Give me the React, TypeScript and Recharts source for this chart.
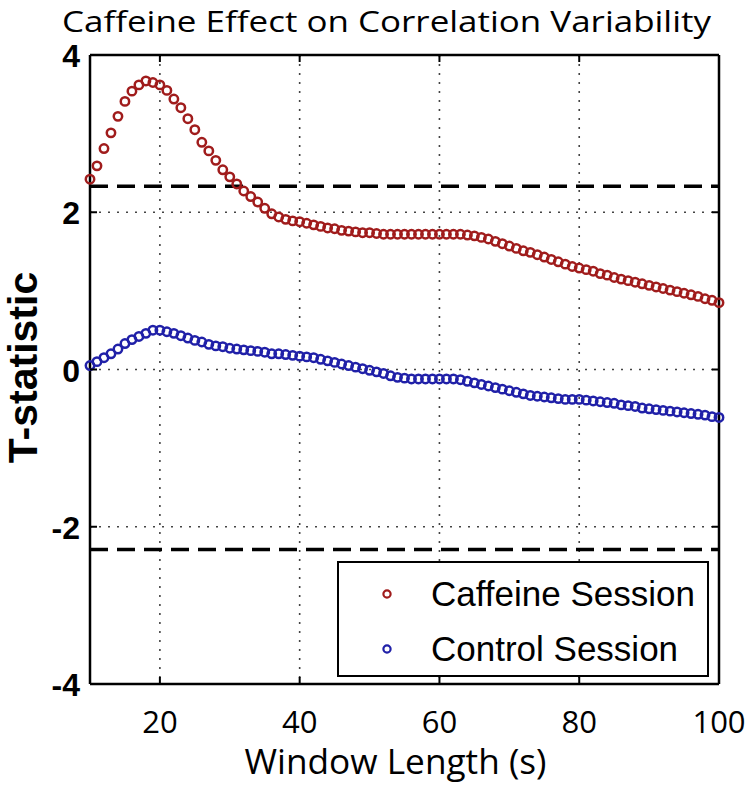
import React from 'react';
import {
  ScatterChart,
  Scatter,
  XAxis,
  YAxis,
  CartesianGrid,
  ReferenceLine,
  Legend,
} from 'recharts';

const windowLengths = [
  10, 11, 12, 13, 14, 15, 16, 17, 18, 19,
  20, 21, 22, 23, 24, 25, 26, 27, 28, 29,
  30, 31, 32, 33, 34, 35, 36, 37, 38, 39,
  40, 41, 42, 43, 44, 45, 46, 47, 48, 49,
  50, 51, 52, 53, 54, 55, 56, 57, 58, 59,
  60, 61, 62, 63, 64, 65, 66, 67, 68, 69,
  70, 71, 72, 73, 74, 75, 76, 77, 78, 79,
  80, 81, 82, 83, 84, 85, 86, 87, 88, 89,
  90, 91, 92, 93, 94, 95, 96, 97, 98, 99,
  100,
];

const caffeineT = [
  2.42, 2.59, 2.81, 3.01, 3.22, 3.41, 3.54, 3.62, 3.67, 3.65,
  3.62, 3.55, 3.44, 3.33, 3.19, 3.05, 2.89, 2.78, 2.66, 2.54,
  2.45, 2.36, 2.27, 2.20, 2.13, 2.05, 1.98, 1.94, 1.91, 1.89,
  1.88, 1.86, 1.84, 1.82, 1.80, 1.79, 1.77, 1.76, 1.75, 1.74,
  1.74, 1.73, 1.72, 1.72, 1.72, 1.72, 1.72, 1.72, 1.72, 1.72,
  1.72, 1.72, 1.72, 1.72, 1.71, 1.70, 1.68, 1.66, 1.63, 1.60,
  1.57, 1.54, 1.51, 1.49, 1.46, 1.43, 1.40, 1.37, 1.34, 1.31,
  1.29, 1.27, 1.25, 1.22, 1.20, 1.17, 1.15, 1.13, 1.11, 1.09,
  1.07, 1.05, 1.03, 1.01, 0.99, 0.97, 0.95, 0.93, 0.90, 0.88,
  0.85,
];

const controlT = [
  0.05, 0.10, 0.15, 0.20, 0.26, 0.33, 0.38, 0.42, 0.46, 0.50,
  0.50, 0.48, 0.46, 0.43, 0.40, 0.37, 0.35, 0.32, 0.30, 0.29,
  0.27, 0.26, 0.25, 0.24, 0.23, 0.22, 0.20, 0.20, 0.19, 0.18,
  0.17, 0.16, 0.15, 0.13, 0.11, 0.09, 0.07, 0.05, 0.03, 0.01,
  -0.01, -0.03, -0.05, -0.08, -0.10, -0.11, -0.12, -0.12, -0.12, -0.12,
  -0.12, -0.12, -0.12, -0.13, -0.15, -0.17, -0.19, -0.21, -0.23, -0.25,
  -0.27, -0.29, -0.31, -0.33, -0.34, -0.35, -0.36, -0.37, -0.38, -0.38,
  -0.38, -0.39, -0.40, -0.41, -0.42, -0.43, -0.45, -0.46, -0.47, -0.49,
  -0.50, -0.51, -0.52, -0.53, -0.54, -0.55, -0.56, -0.57, -0.58, -0.60,
  -0.61,
];

const xTicks = [20, 40, 60, 80, 100];
const yTicks = [-4, -2, 0, 2, 4];
const upperThreshold = 2.33;
const lowerThreshold = -2.29;

const seriesNames = ['Caffeine Session', 'Control Session'];
const seriesColors = ['#a01c1c', '#2020a8'];

const titleText = 'Caffeine Effect on Correlation Variability';
const xLabelText = 'Window Length (s)';
const yLabelText = 'T-statistic';

const caffeineData = windowLengths.map((x, i) => ({ x, y: caffeineT[i] }));
const controlData = windowLengths.map((x, i) => ({ x, y: controlT[i] }));

const makeShape = (color: string) => (props: any) => (
  <circle cx={props.cx} cy={props.cy} r={4.2} fill="none" stroke={color} strokeWidth={2.5} />
);
const emptyShape = () => <g />;

const BottomTick = (props: any) => {
  const { x, y, payload } = props;
  return (
    <g>
      <line x1={x} x2={x} y1={y} y2={y - 7} stroke="#000" strokeWidth={2} />
      <text x={x} y={y + 49} textAnchor="middle" fontFamily="Open Sans" fontSize={31} fill="#000">
        {payload.value}
      </text>
    </g>
  );
};

const TopTick = (props: any) => {
  const { x, y } = props;
  return <line x1={x} x2={x} y1={y} y2={y + 7} stroke="#000" strokeWidth={2} />;
};

const LeftTick = (props: any) => {
  const { x, y, payload } = props;
  return (
    <g>
      <line x1={x} x2={x + 7} y1={y} y2={y} stroke="#000" strokeWidth={2} />
      <text
        x={x - 10}
        y={y + 12}
        textAnchor="end"
        fontFamily="Liberation Sans"
        fontWeight="bold"
        fontSize={32}
        fill="#000"
      >
        {payload.value}
      </text>
    </g>
  );
};

const RightTick = (props: any) => {
  const { x, y } = props;
  return <line x1={x} x2={x - 7} y1={y} y2={y} stroke="#000" strokeWidth={2} />;
};

const LegendBox = () => (
  <div
    style={{
      position: 'relative',
      width: 372,
      height: 116,
      boxSizing: 'border-box',
      border: '2px solid #000',
      background: '#fff',
    }}
  >
    {seriesNames.map((name, i) => (
      <div
        key={name}
        style={{
          position: 'absolute',
          left: 0,
          top: i === 0 ? 11 : 66,
          height: 40,
          width: 368,
        }}
      >
        <svg width={20} height={20} style={{ position: 'absolute', left: 38, top: 10 }}>
          <circle cx={10} cy={10} r={3.6} fill="none" stroke={seriesColors[i]} strokeWidth={2.2} />
        </svg>
        <span
          style={{
            position: 'absolute',
            left: 92,
            top: 0,
            fontFamily: 'Liberation Sans',
            fontSize: 35,
            lineHeight: '40px',
            color: '#000',
            whiteSpace: 'nowrap',
          }}
        >
          {name}
        </span>
      </div>
    ))}
  </div>
);

export default function App() {
  return (
    <div style={{ position: 'absolute', left: 0, top: 0, width: 750, height: 787, background: '#fff' }}>
      <ScatterChart width={750} height={787} margin={{ top: 54, right: 30, bottom: 0, left: 0 }}>
        <CartesianGrid stroke="#444" strokeWidth={1.6} strokeDasharray="2 7" />
        <XAxis
          dataKey="x"
          type="number"
          domain={[10, 100]}
          ticks={xTicks}
          interval={0}
          height={103}
          axisLine={{ stroke: '#000', strokeWidth: 2.5 }}
          tickLine={false}
          tickSize={0}
          tickMargin={0}
          tick={<BottomTick />}
          label={{
            content: (p: any) => {
              const vb = p.viewBox;
              return (
                <text
                  x={vb.x + vb.width / 2 - 9}
                  y={774}
                  textAnchor="middle"
                  fontFamily="Open Sans"
                  fontSize={34}
                  fill="#000"
                  textLength={302}
                  lengthAdjust="spacingAndGlyphs"
                >
                  {xLabelText}
                </text>
              );
            },
          }}
        />
        <XAxis
          xAxisId="top"
          orientation="top"
          dataKey="x"
          type="number"
          domain={[10, 100]}
          ticks={xTicks}
          interval={0}
          height={1}
          axisLine={{ stroke: '#000', strokeWidth: 2.5 }}
          tickLine={false}
          tickSize={0}
          tickMargin={0}
          tick={<TopTick />}
          label={{
            content: (p: any) => {
              const vb = p.viewBox;
              return (
                <text
                  x={vb.x + vb.width / 2 - 18}
                  y={32}
                  textAnchor="middle"
                  fontFamily="Open Sans"
                  fontSize={30}
                  fill="#000"
                  textLength={649}
                  lengthAdjust="spacingAndGlyphs"
                >
                  {titleText}
                </text>
              );
            },
          }}
        />
        <YAxis
          dataKey="y"
          type="number"
          domain={[-4, 4]}
          ticks={yTicks}
          interval={0}
          width={90}
          axisLine={{ stroke: '#000', strokeWidth: 2.5 }}
          tickLine={false}
          tickSize={0}
          tickMargin={0}
          tick={<LeftTick />}
          label={{
            content: (p: any) => {
              const vb = p.viewBox;
              const cy = vb.y + vb.height / 2 - 2;
              return (
                <text
                  x={37}
                  y={cy}
                  transform={`rotate(-90 37 ${cy})`}
                  textAnchor="middle"
                  fontFamily="Liberation Sans"
                  fontWeight="bold"
                  fontSize={41}
                  fill="#000"
                >
                  {yLabelText}
                </text>
              );
            },
          }}
        />
        <YAxis
          yAxisId="right"
          orientation="right"
          dataKey="y"
          type="number"
          domain={[-4, 4]}
          ticks={yTicks}
          interval={0}
          width={1}
          axisLine={{ stroke: '#000', strokeWidth: 2.5 }}
          tickLine={false}
          tickSize={0}
          tickMargin={0}
          tick={<RightTick />}
        />
        <ReferenceLine y={upperThreshold} stroke="#000" strokeWidth={3.5} strokeDasharray="18 9" />
        <ReferenceLine y={lowerThreshold} stroke="#000" strokeWidth={3.5} strokeDasharray="18 9" />
        <Scatter
          name={seriesNames[0]}
          data={caffeineData}
          isAnimationActive={false}
          shape={makeShape(seriesColors[0])}
        />
        <Scatter
          name={seriesNames[1]}
          data={controlData}
          isAnimationActive={false}
          shape={makeShape(seriesColors[1])}
        />
        <Scatter
          xAxisId="top"
          yAxisId="right"
          data={controlData}
          isAnimationActive={false}
          legendType="none"
          shape={emptyShape}
        />
        <Legend
          layout="horizontal"
          verticalAlign="middle"
          align="center"
          content={<LegendBox />}
          wrapperStyle={{ position: 'absolute', left: 337, top: 561, width: 372, height: 116 }}
        />
      </ScatterChart>
    </div>
  );
}
